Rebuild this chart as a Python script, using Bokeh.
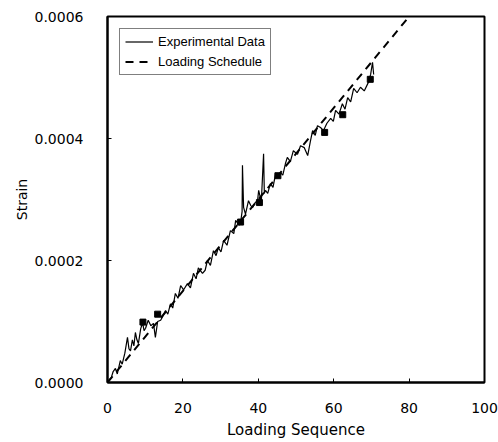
from bokeh.plotting import figure
from bokeh.models import FixedTicker, PrintfTickFormatter, Range1d, Legend, LegendItem
from bokeh.embed import file_html
from bokeh.resources import INLINE

exp_x = [0, 0.5, 1.0, 1.5, 2.1, 2.6, 3.4, 3.9, 4.6, 5.3, 5.7, 6.1, 6.6, 7.0, 7.4, 7.8,
         8.2, 8.8, 9.3, 9.7, 10.1, 10.8, 11.5, 12.2, 12.7, 13.3, 14.1, 14.8, 15.4, 16.0,
         16.7, 17.3, 18.0, 18.7, 19.4, 20.2, 21.2, 22.0, 22.8, 23.5, 24.1, 25.2, 25.9,
         26.5, 27.3, 28.1, 28.8, 29.4, 30.1, 30.8, 31.7, 32.6, 33.5, 34.0, 34.5, 35.0,
         35.3, 35.7, 35.8, 36.1, 36.6, 37.4, 38.0, 38.5, 39.2, 39.8, 40.1, 40.8, 41.4,
         41.6, 41.9, 42.5, 43.2, 43.9, 44.6, 45.3, 45.9, 46.5, 47.2, 47.7, 48.5, 49.3,
         50.4, 51.2, 52.2, 53.1, 53.8, 54.4, 55.1, 55.7, 56.5, 57.3, 58.2, 59.2, 59.9,
         60.5, 61.4, 62.3, 63.0, 63.7, 64.5, 65.3, 66.2, 67.1, 68.1, 69.2, 69.8, 70.3, 70.6]
exp_y = [0, 0.05e-4, 0.08e-4, 0.18e-4, 0.23e-4, 0.14e-4, 0.36e-4, 0.30e-4, 0.48e-4,
         0.74e-4, 0.55e-4, 0.52e-4, 0.70e-4, 0.60e-4, 0.82e-4, 0.70e-4, 0.64e-4, 0.88e-4,
         0.98e-4, 0.85e-4, 0.89e-4, 1.02e-4, 0.93e-4, 0.97e-4, 0.74e-4, 1.00e-4, 1.02e-4,
         1.10e-4, 1.18e-4, 1.12e-4, 1.29e-4, 1.22e-4, 1.46e-4, 1.38e-4, 1.59e-4, 1.52e-4,
         1.62e-4, 1.55e-4, 1.79e-4, 1.70e-4, 1.88e-4, 1.79e-4, 1.84e-4, 2.00e-4, 1.92e-4,
         2.16e-4, 2.08e-4, 2.21e-4, 2.14e-4, 2.33e-4, 2.25e-4, 2.49e-4, 2.44e-4, 2.66e-4,
         2.61e-4, 2.58e-4, 2.62e-4, 2.80e-4, 3.56e-4, 2.87e-4, 2.76e-4, 2.98e-4, 2.90e-4,
         2.87e-4, 2.95e-4, 2.98e-4, 3.15e-4, 2.96e-4, 3.75e-4, 3.10e-4, 3.15e-4, 3.10e-4,
         3.26e-4, 3.20e-4, 3.43e-4, 3.36e-4, 3.44e-4, 3.40e-4, 3.59e-4, 3.69e-4, 3.62e-4,
         3.80e-4, 3.74e-4, 3.88e-4, 3.85e-4, 3.72e-4, 3.95e-4, 4.13e-4, 4.05e-4, 4.21e-4,
         4.18e-4, 4.13e-4, 4.25e-4, 4.33e-4, 4.28e-4, 4.46e-4, 4.40e-4, 4.57e-4, 4.48e-4,
         4.67e-4, 4.60e-4, 4.82e-4, 4.75e-4, 4.84e-4, 4.78e-4, 4.92e-4, 5.05e-4, 5.25e-4,
         5.05e-4]

# Small square marks on the experimental trace
mark_x = [9.4, 13.3, 35.3, 40.3, 45.2, 57.6, 62.4, 69.7]
mark_y = [0.99e-4, 1.12e-4, 2.63e-4, 2.95e-4, 3.39e-4, 4.10e-4, 4.39e-4, 4.97e-4]

# Loading schedule
sched_x = [0, 80]
sched_y = [0, 0.0006]

x_ticks = [0, 20, 40, 60, 80, 100]
y_ticks = [0, 0.0002, 0.0004, 0.0006]

TICK_FONT = "DejaVu Sans"
LEG_FONT = "Liberation Sans"

p = figure(width=498, height=442, output_backend="svg", toolbar_location=None,
           x_range=Range1d(0, 100), y_range=Range1d(0, 0.0006),
           min_border_left=107, min_border_top=16, min_border_right=14,
           min_border_bottom=60)

p.background_fill_color = "white"
p.border_fill_color = "white"
p.outline_line_color = "black"
p.outline_line_width = 2
p.xgrid.visible = False
p.ygrid.visible = False

r_exp = p.line(exp_x, exp_y, line_color="black", line_width=1.2)
p.scatter(mark_x, mark_y, marker="square", size=6, fill_color="black",
          line_color="black")
r_sched = p.line(sched_x, sched_y, line_color="black", line_width=2, line_dash="8 6")

legend = Legend(items=[LegendItem(label="Experimental Data", renderers=[r_exp]),
                       LegendItem(label="Loading Schedule", renderers=[r_sched])],
                location="top_left")
legend.margin = 12
legend.padding = 5
legend.spacing = 5
legend.glyph_width = 28
legend.glyph_height = 15
legend.label_standoff = 5
legend.label_height = 15
legend.label_text_font = LEG_FONT
legend.label_text_font_size = "13px"
legend.label_text_color = "black"
legend.border_line_color = "black"
legend.border_line_width = 1.5
legend.background_fill_alpha = 1
p.add_layout(legend)

for ax in (p.xaxis[0], p.yaxis[0]):
    ax.axis_line_color = "black"
    ax.axis_line_width = 2
    ax.major_tick_in = 4
    ax.major_tick_out = 0
    ax.minor_tick_in = 0
    ax.minor_tick_out = 0
    ax.major_tick_line_color = "black"
    ax.major_label_text_font = TICK_FONT
    ax.major_label_text_font_size = "14px"
    ax.major_label_text_color = "black"
    ax.axis_label_text_font = TICK_FONT
    ax.axis_label_text_font_style = "normal"
    ax.axis_label_text_color = "black"

p.xaxis.axis_label_text_font_size = "15px"
p.yaxis.axis_label_text_font_size = "14px"
p.xaxis.ticker = FixedTicker(ticks=x_ticks)
p.yaxis.ticker = FixedTicker(ticks=y_ticks)
p.yaxis.formatter = PrintfTickFormatter(format="%.4f")
p.xaxis.axis_label = "Loading Sequence"
p.yaxis.axis_label = "Strain"
p.xaxis.major_label_standoff = 20
p.yaxis.major_label_standoff = 24
p.xaxis.axis_label_standoff = 5
p.yaxis.axis_label_standoff = 2

open("out.html", "w").write(file_html(p, INLINE))
